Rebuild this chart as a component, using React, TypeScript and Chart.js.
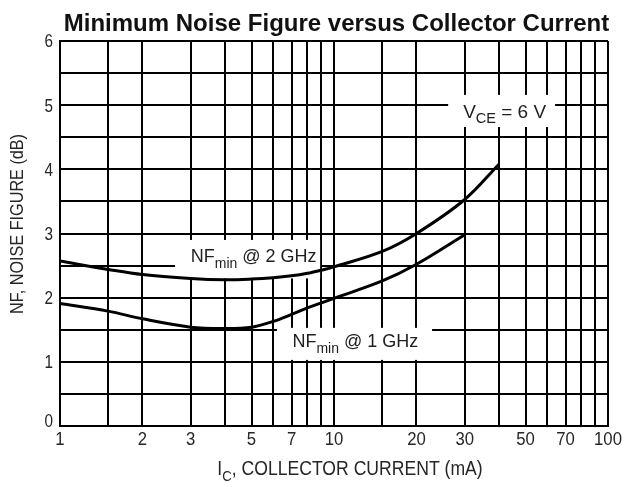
import React, { useEffect, useRef } from "react";
import { Chart, registerables } from "chart.js";

Chart.register(...registerables);

// ---- Data ----
const currents2GHz = [1, 1.5, 2, 3, 4, 5, 6, 7, 8, 9, 10, 15, 20, 30, 40];
const nfMin2GHz = [2.57, 2.44, 2.36, 2.3, 2.28, 2.29, 2.31, 2.34, 2.38, 2.43, 2.48, 2.72, 3.0, 3.53, 4.08];

const currents1GHz = [1, 1.5, 2, 3, 4, 5, 6, 7, 8, 9, 10, 15, 20, 30];
const nfMin1GHz = [1.91, 1.79, 1.67, 1.54, 1.52, 1.54, 1.63, 1.74, 1.84, 1.92, 1.99, 2.26, 2.52, 2.98];

const xGridValues = [1, 1.5, 2, 3, 4, 5, 6, 7, 8, 9, 10, 15, 20, 30, 40, 50, 60, 70, 80, 90, 100];
const xTickLabels = [1, 2, 3, 5, 7, 10, 20, 30, 50, 70, 100];
const yTickLabels = [0, 1, 2, 3, 4, 5, 6];

const chartTitle = "Minimum Noise Figure versus Collector Current";

// annotation anchors in data units: [x, y] of text start / baseline
const label2GHzAnchor = [3.0, 2.56];
const label2GHzBox = [2.63, 8.9, 2.3, 2.9]; // xMin, xMax, yMin, yMax
const label1GHzAnchor = [7.05, 1.23];
const label1GHzBox = [6.19, 22.8, 1.03, 1.53];
const labelVceAnchor = [29.6, 4.8];
const labelVceBox = [26.1, 64.1, 4.66, 5.16];

type Part = { text: string; size: number; dy?: number; weight?: string };

const FONT = '"Liberation Sans", Arial, Helvetica, sans-serif';

function drawParts(
  ctx: CanvasRenderingContext2D,
  parts: Part[],
  x: number,
  y: number,
  align: "left" | "center" | "right",
  condense: number
) {
  let total = 0;
  const widths = parts.map((p) => {
    ctx.font = `${p.weight || "normal"} ${p.size}px ${FONT}`;
    const w = ctx.measureText(p.text).width * condense;
    total += w;
    return w;
  });
  let cx = align === "center" ? x - total / 2 : align === "right" ? x - total : x;
  ctx.textAlign = "left";
  parts.forEach((p, i) => {
    ctx.font = `${p.weight || "normal"} ${p.size}px ${FONT}`;
    ctx.save();
    ctx.translate(cx, y + (p.dy || 0));
    ctx.scale(condense, 1);
    ctx.fillText(p.text, 0, 0);
    ctx.restore();
    cx += widths[i];
  });
}

const overlayPlugin = {
  id: "overlay",
  beforeDatasetsDraw(chart: any) {
    const { ctx, scales } = chart;
    const xs = scales.x;
    const ys = scales.y;
    ctx.save();
    ctx.fillStyle = "#ffffff";
    [label2GHzBox, label1GHzBox, labelVceBox].forEach((b) => {
      const l = xs.getPixelForValue(b[0]);
      const r = xs.getPixelForValue(b[1]);
      const t = ys.getPixelForValue(b[3]);
      const btm = ys.getPixelForValue(b[2]);
      ctx.fillRect(l, t, r - l, btm - t);
    });
    ctx.restore();
  },
  afterDraw(chart: any) {
    const { ctx, scales, chartArea } = chart;
    const xs = scales.x;
    const ys = scales.y;
    ctx.save();

    // in-plot labels
    ctx.fillStyle = "#1e1e1e";
    ctx.textBaseline = "alphabetic";
    drawParts(
      ctx,
      [
        { text: "NF", size: 18 },
        { text: "min", size: 14, dy: 6 },
        { text: " @ 2 GHz", size: 18 },
      ],
      xs.getPixelForValue(label2GHzAnchor[0]),
      ys.getPixelForValue(label2GHzAnchor[1]),
      "left",
      1
    );
    drawParts(
      ctx,
      [
        { text: "NF", size: 18 },
        { text: "min", size: 14, dy: 6 },
        { text: " @ 1 GHz", size: 18 },
      ],
      xs.getPixelForValue(label1GHzAnchor[0]),
      ys.getPixelForValue(label1GHzAnchor[1]),
      "left",
      1
    );
    drawParts(
      ctx,
      [
        { text: "V", size: 19 },
        { text: "CE", size: 14.5, dy: 5 },
        { text: " = 6 V", size: 19 },
      ],
      xs.getPixelForValue(labelVceAnchor[0]),
      ys.getPixelForValue(labelVceAnchor[1]),
      "left",
      1
    );

    // tick labels
    ctx.fillStyle = "#262626";
    ctx.textBaseline = "middle";
    xTickLabels.forEach((v) => {
      drawParts(ctx, [{ text: String(v), size: 19 }], xs.getPixelForValue(v), chartArea.bottom + 14, "center", 0.88);
    });
    yTickLabels.forEach((v) => {
      const py = ys.getPixelForValue(v) + (v === 0 ? -3.5 : 1.5);
      drawParts(ctx, [{ text: String(v), size: 18 }], chartArea.left - 7, py, "right", 0.85);
    });

    // axis titles
    ctx.textBaseline = "alphabetic";
    drawParts(
      ctx,
      [
        { text: "I", size: 20 },
        { text: "C", size: 15, dy: 6 },
        { text: ", COLLECTOR CURRENT (mA)", size: 20 },
      ],
      350,
      475,
      "center",
      0.88
    );
    ctx.save();
    ctx.translate(18, 224);
    ctx.rotate(-Math.PI / 2);
    ctx.textBaseline = "middle";
    drawParts(ctx, [{ text: "NF, NOISE FIGURE (dB)", size: 18 }], 0, 0, "center", 0.9);
    ctx.restore();

    // chart title
    ctx.fillStyle = "#111";
    ctx.textBaseline = "alphabetic";
    drawParts(ctx, [{ text: chartTitle, size: 24, weight: "bold" }], 336.5, 31, "center", 1);

    ctx.restore();
  },
};

export default function App() {
  const canvasRef = useRef<HTMLCanvasElement | null>(null);

  useEffect(() => {
    const canvas = canvasRef.current;
    if (!canvas) return;
    const gridOpts = { color: "#000", lineWidth: 2, drawTicks: false, tickLength: 0 };
    const borderOpts = { color: "#000", width: 2, display: true };
    const chart = new Chart(canvas, {
      type: "line",
      data: {
        datasets: [
          {
            label: "NFmin @ 2 GHz",
            data: currents2GHz.map((x, i) => ({ x, y: nfMin2GHz[i] })),
            borderColor: "#000",
            borderWidth: 3,
            pointRadius: 0,
            fill: false,
            tension: 0.35,
          },
          {
            label: "NFmin @ 1 GHz",
            data: currents1GHz.map((x, i) => ({ x, y: nfMin1GHz[i] })),
            borderColor: "#000",
            borderWidth: 3,
            pointRadius: 0,
            fill: false,
            tension: 0.35,
          },
        ],
      },
      options: {
        animation: false,
        responsive: false,
        devicePixelRatio: 1,
        layout: { padding: { top: 41, right: 18, left: 0, bottom: 0 } },
        plugins: {
          legend: { display: false },
          tooltip: { enabled: false },
          title: { display: false },
        },
        scales: {
          x: {
            type: "logarithmic",
            min: 1,
            max: 100,
            afterBuildTicks: (scale: any) => {
              scale.ticks = xGridValues.map((v) => ({ value: v }));
            },
            afterFit: (scale: any) => {
              scale.height = 61;
            },
            ticks: { display: false },
            grid: gridOpts,
            border: borderOpts,
          },
          y: {
            type: "linear",
            min: 0,
            max: 6,
            afterFit: (scale: any) => {
              scale.width = 60;
            },
            ticks: { display: false, stepSize: 0.5 },
            grid: gridOpts,
            border: borderOpts,
          },
        },
      } as any,
      plugins: [overlayPlugin],
    });
    return () => chart.destroy();
  }, []);

  return (
    <div style={{ position: "fixed", left: 0, top: 0, width: 626, height: 487, background: "#fff" }}>
      <canvas ref={canvasRef} width={626} height={487} style={{ display: "block" }} />
    </div>
  );
}
